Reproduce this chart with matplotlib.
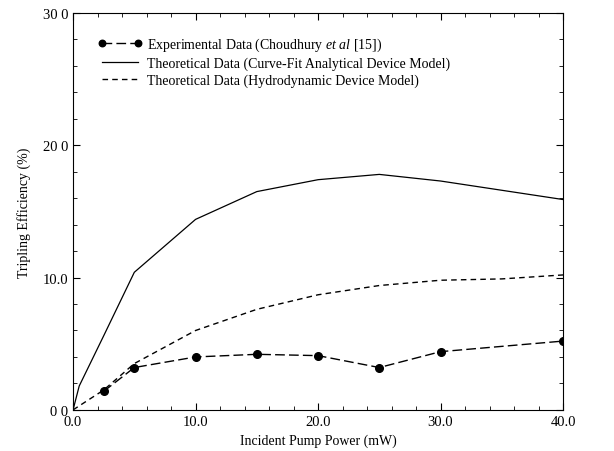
import matplotlib
matplotlib.use("Agg")
import matplotlib.pyplot as plt
from matplotlib.ticker import MultipleLocator

plt.rcParams["font.family"] = "Liberation Serif"
plt.rcParams["mathtext.fontset"] = "custom"
plt.rcParams["mathtext.it"] = "Liberation Serif:italic"
plt.rcParams["mathtext.rm"] = "Liberation Serif"

# experimental data (Choudhury et al)
exp_x = [2.5, 5, 10, 15, 20, 25, 30, 40]
exp_y = [1.4, 3.2, 4.0, 4.2, 4.1, 3.2, 4.4, 5.2]

# curve-fit analytical model
fit_x = [0, 0.5, 2.5, 5, 10, 15, 20, 25, 30, 40]
fit_y = [0, 1.8, 5.6, 10.4, 14.4, 16.5, 17.4, 17.8, 17.3, 15.9]

# hydrodynamic model
hyd_x = [0, 2.5, 5, 10, 15, 20, 25, 30, 35, 40]
hyd_y = [0, 1.5, 3.5, 6.0, 7.6, 8.7, 9.4, 9.8, 9.9, 10.2]

x_ticks = [0, 10, 20, 30, 40]
x_labels = ["0.0", "10.0", "20.0", "30.0", "40.0"]
y_ticks = [0, 10, 20, 30]
y_labels = ["0 0", "10.0", "20 0", "30 0"]

fig = plt.figure(figsize=(6.14, 4.52), dpi=100)
ax = fig.add_axes([0.119, 0.091, 0.798, 0.878])

ax.plot(exp_x, exp_y, color="black", lw=1.0, dashes=(7, 3), marker="o", ms=5.5,
        label=r"Experimental Data (Choudhury $\mathit{et\ al}$ [15])")
ax.plot(fit_x, fit_y, color="black", lw=0.9,
        label="Theoretical Data (Curve-Fit Analytical Device Model)")
ax.plot(hyd_x, hyd_y, color="black", lw=1.0, dashes=(4, 3),
        label="Theoretical Data (Hydrodynamic Device Model)")

ax.set_xlim(0, 40)
ax.set_ylim(0, 30)
ax.set_xticks(x_ticks)
ax.set_xticklabels(x_labels)
ax.set_yticks(y_ticks)
ax.set_yticklabels(y_labels)
ax.xaxis.set_minor_locator(MultipleLocator(2))
ax.yaxis.set_minor_locator(MultipleLocator(2))
ax.tick_params(which="both", direction="in", top=True, right=True, labelsize=10.5)
ax.tick_params(which="major", length=5)
ax.tick_params(which="minor", length=3)

ax.set_xlabel("Incident Pump Power (mW)", fontsize=10)
ax.set_ylabel("Tripling Efficiency (%)", fontsize=10, labelpad=8)

ax.legend(loc="upper left", bbox_to_anchor=(0.025, 0.975), frameon=False,
          fontsize=10, handlelength=3.2, labelspacing=0.25, handletextpad=0.35,
          numpoints=2, markerscale=0.85)

fig.savefig("out.png", dpi=100)
